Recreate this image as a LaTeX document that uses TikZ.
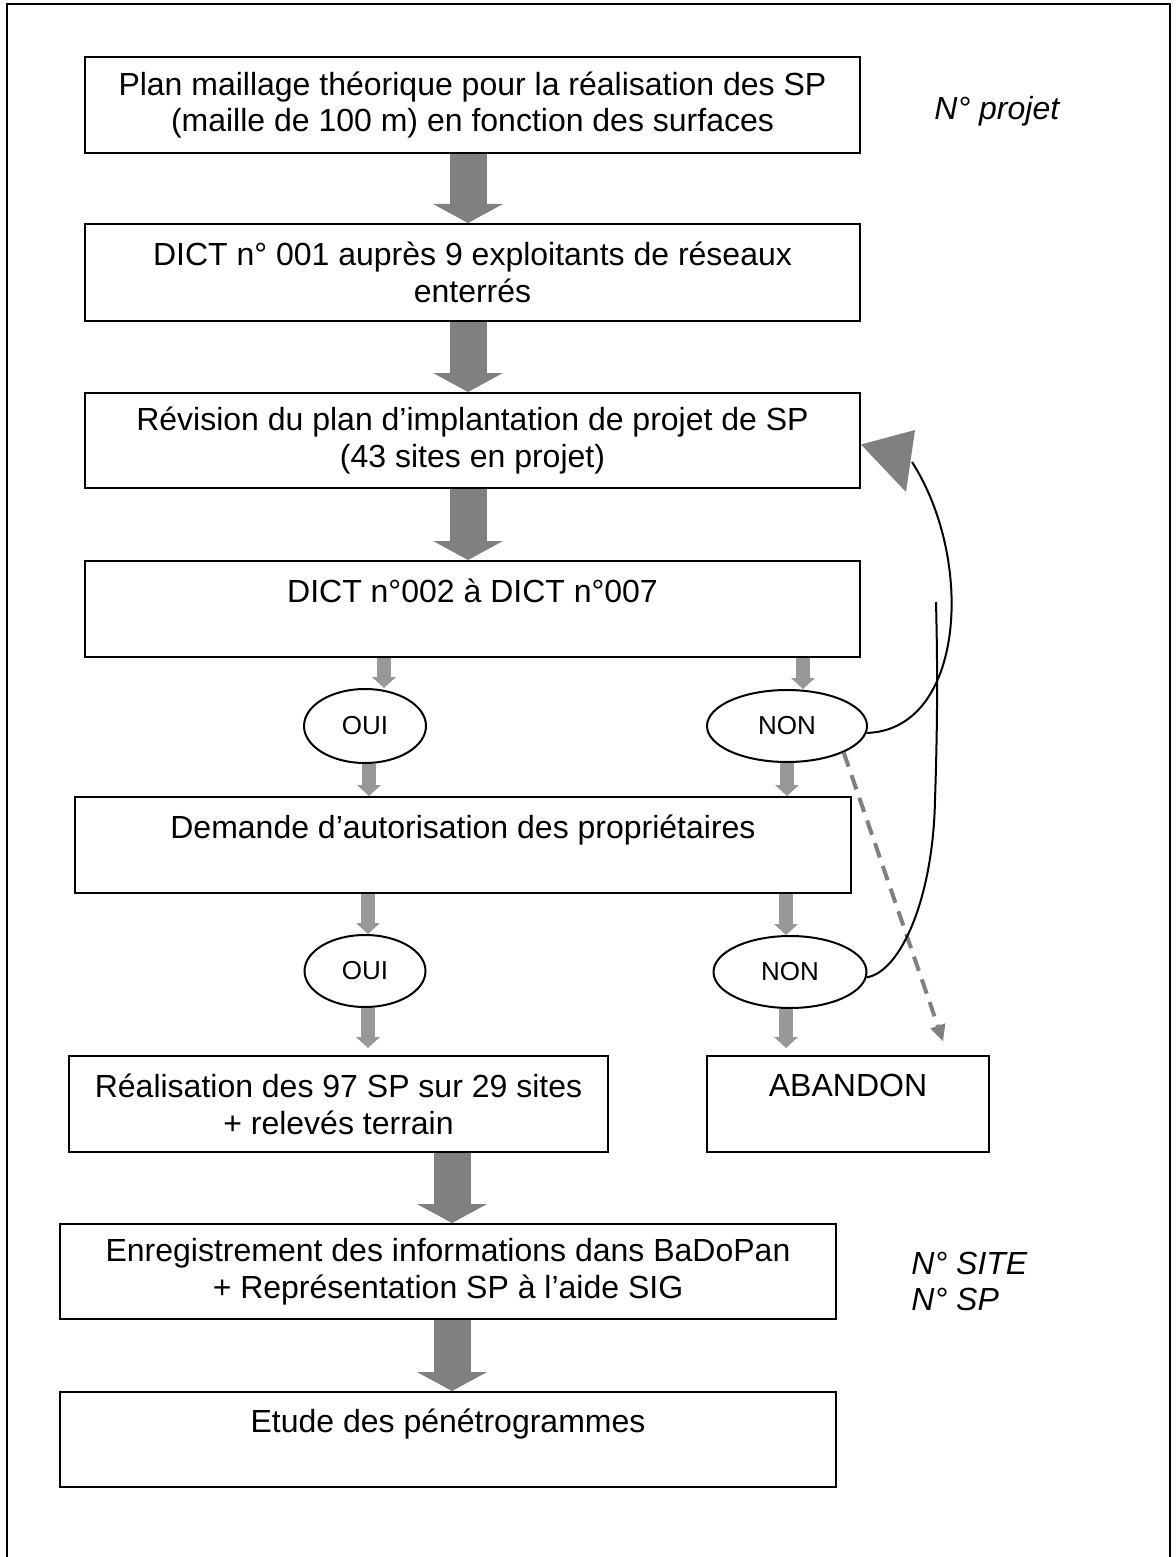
\documentclass[tikz,border=0pt]{standalone}
\usepackage{fontspec}
\setmainfont{Liberation Sans}
\usetikzlibrary{arrows.meta,shapes.geometric,calc}
\definecolor{bigg}{HTML}{808080}
\definecolor{smallg}{HTML}{989898}
\begin{document}
\begin{tikzpicture}[x=0.5pt,y=-0.5pt,
  box/.style={draw,line width=1pt,inner sep=0pt,align=center,font=\fontsize{16}{18.4}\selectfont},
  oval/.style={draw,ellipse,line width=1pt,inner sep=0pt,font=\fontsize{13}{15}\selectfont},
  side/.style={inner sep=0pt,align=left,font=\fontsize{16}{18.4}\selectfont\itshape},
  bigarrow/.style={draw=bigg,line width=18.5pt,-{Triangle[width=35pt,length=9.5pt,line width=0pt]}},
  smallarrow/.style={draw=smallg,line width=7pt,-{Triangle[width=12pt,length=5.5pt,line width=0pt]}},
  dasharrow/.style={draw=bigg,line width=2pt,dash pattern=on 7.5pt off 4.5pt,-{Triangle[width=8pt,length=8pt,line width=0pt]}},
  curve/.style={draw,line width=1pt}
]
\useasboundingbox (0,0) rectangle (1176,1557);
% frame
\draw[line width=1pt] (7,1557) -- (7,4) -- (1170,4) -- (1170,1557);

% boxes
\node[box,minimum width=387.5pt,minimum height=48pt] (b1) at (472.5,105)
  {Plan maillage théorique pour la réalisation des SP\\(maille de 100 m) en fonction des surfaces};
\node[box,minimum width=387.5pt,minimum height=48.5pt] (b2) at (472.5,272.5)
  {DICT n° 001 auprès 9 exploitants de réseaux\\enterrés};
\node[box,minimum width=387.5pt,minimum height=47.5pt] (b3) at (472.5,440.5)
  {Révision du plan d’implantation de projet de SP\\(43 sites en projet)};
\node[box,minimum width=387.5pt,minimum height=48pt] (b4) at (472.5,609)
  {DICT n°002 à DICT n°007\\\mbox{}};
\node[box,minimum width=388pt,minimum height=48pt] (b5) at (463,845)
  {Demande d’autorisation des propriétaires\\\mbox{}};
\node[box,minimum width=269.5pt,minimum height=48pt] (b6) at (338.5,1104)
  {Réalisation des 97 SP sur 29 sites\\+ relevés terrain};
\node[box,minimum width=141pt,minimum height=48pt] (b7) at (848,1104)
  {ABANDON\\\mbox{}};
\node[box,minimum width=388pt,minimum height=47.5pt] (b8) at (448,1271.5)
  {Enregistrement des informations dans BaDoPan\\+ Représentation SP à l’aide SIG};
\node[box,minimum width=388pt,minimum height=47.5pt] (b9) at (448,1439.5)
  {Etude des pénétrogrammes\\\mbox{}};

% ovals
\node[oval,minimum width=61pt,minimum height=37pt] (oui1) at (365,726) {OUI};
\node[oval,minimum width=80pt,minimum height=36pt] (non1) at (787,726) {NON};
\node[oval,minimum width=60.5pt,minimum height=36pt] (oui2) at (365,971) {OUI};
\node[oval,minimum width=76.5pt,minimum height=36pt] (non2) at (790,972) {NON};

% side labels
\node[side,anchor=base west] (np) at (934,120) {N° projet};
\node[side,anchor=west] (ns) at (911,1281.5) {N° SITE\\N° SP};

% arrow x positions
\coordinate (xa) at (468,0);
\coordinate (xb) at (452,0);
\coordinate (xs1) at (384,0);
\coordinate (xs2) at (803,0);
\coordinate (xs3) at (369,0);
\coordinate (xs4) at (787,0);
\coordinate (xs5) at (368,0);
\coordinate (xs6) at (786,0);

% big arrows
\draw[bigarrow] (b1.south -| xa) -- (b2.north -| xa);
\draw[bigarrow] (b2.south -| xa) -- (b3.north -| xa);
\draw[bigarrow] (b3.south -| xa) -- (b4.north -| xa);
\draw[bigarrow] (b6.south -| xb) -- (b8.north -| xb);
\draw[bigarrow] (b8.south -| xb) -- (b9.north -| xb);

% small arrows
\draw[smallarrow] (b4.south -| xs1) -- (oui1.north -| xs1);
\draw[smallarrow] (b4.south -| xs2) -- (non1.north -| xs2);
\draw[smallarrow] (oui1.south -| xs3) -- (b5.north -| xs3);
\draw[smallarrow] (non1.south -| xs4) -- (b5.north -| xs4);
\draw[smallarrow] (b5.south -| xs5) -- (oui2.north -| xs5);
\draw[smallarrow] (b5.south -| xs6) -- (non2.north -| xs6);
\draw[smallarrow,shorten >=3.5pt] (oui2.south -| xs5) -- (b6.north -| xs5);
\draw[smallarrow,shorten >=3.5pt] (non2.south -| xs6) -- (b7.north -| xs6);

% dashed arrow
\coordinate (dend) at (943,1041);
\draw[dasharrow] (non1.-25) -- (dend);

% curved return connectors
\coordinate (c1) at (912,462);
\draw[curve] (non1.-5) .. controls (965,730) and (975,560) .. (c1);
\fill[bigg] ($(b3.east)+(0,4)$) -- (915,430) -- (906,492) -- cycle;
\coordinate (c2) at (936,602);
\draw[curve] (non2.-4) .. controls (900,972) and (933,900) .. (935,800) .. controls (937,740) and (938,680) .. (c2);
\end{tikzpicture}
\end{document}
